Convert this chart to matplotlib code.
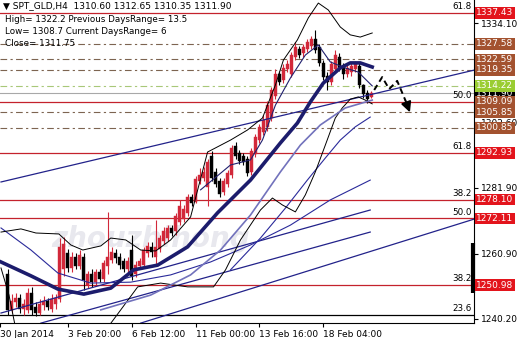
import numpy as np
import matplotlib
matplotlib.use("Agg")
import matplotlib.pyplot as plt

# H4 candles, bar index 1..92
opens = [1254.5, 1243.0, 1245.5, 1247.0, 1243.5, 1243.0, 1248.5, 1244.0, 1242.0, 1244.5,
         1246.0, 1243.5, 1245.0, 1246.5, 1256.0, 1261.0, 1256.5, 1260.0, 1257.0, 1260.0,
         1251.0, 1254.5, 1252.0, 1255.0, 1253.0, 1257.0, 1259.0, 1261.0, 1260.0, 1258.5,
         1256.0, 1262.0, 1254.5, 1257.0, 1257.5, 1261.0, 1263.0, 1260.0, 1262.5, 1265.0,
         1266.0, 1269.0, 1268.0, 1271.0, 1272.0, 1274.0, 1279.0, 1277.5, 1284.0, 1285.0,
         1282.0, 1292.0, 1287.0, 1284.0, 1280.5, 1283.0, 1286.0, 1295.0, 1293.0, 1292.0,
         1291.0, 1287.0, 1292.5, 1297.0, 1299.5, 1301.0, 1304.0, 1311.0, 1318.0, 1316.0,
         1319.5, 1318.0, 1323.5, 1326.0, 1324.5, 1326.0, 1327.0, 1329.0, 1326.5, 1321.5,
         1317.5, 1315.5, 1319.5, 1323.5, 1320.5, 1318.0, 1318.5, 1319.5, 1320.5, 1314.5,
         1312.0, 1310.6]
highs = [1256.0, 1248.0, 1248.5, 1248.0, 1246.5, 1250.0, 1250.5, 1245.5, 1246.5, 1247.5,
         1247.0, 1248.0, 1248.0, 1266.0, 1266.2, 1262.5, 1261.5, 1261.0, 1262.0, 1261.0,
         1255.5, 1256.0, 1256.0, 1256.0, 1259.0, 1274.2, 1263.0, 1262.5, 1261.0, 1259.5,
         1260.0, 1266.9, 1258.5, 1259.5, 1263.0, 1264.5, 1264.5, 1271.6, 1267.0, 1269.5,
         1270.0, 1270.0, 1274.0, 1278.0, 1276.5, 1280.0, 1280.0, 1285.5, 1288.0, 1288.5,
         1291.0, 1293.5, 1288.0, 1285.0, 1285.0, 1287.5, 1295.5, 1296.5, 1294.0, 1293.0,
         1292.0, 1294.5, 1299.0, 1302.0, 1305.0, 1309.5, 1314.0, 1319.5, 1319.0, 1321.0,
         1322.5, 1325.0, 1328.0, 1327.0, 1327.5, 1329.0, 1330.0, 1332.0, 1327.5, 1322.5,
         1318.5, 1322.0, 1325.5, 1324.5, 1321.5, 1321.0, 1321.5, 1322.0, 1321.5, 1314.7,
         1313.0, 1312.65]
lows = [1241.5, 1242.0, 1244.0, 1242.0, 1241.5, 1242.0, 1241.5, 1241.0, 1241.5, 1243.0,
        1243.0, 1242.5, 1243.5, 1245.5, 1254.0, 1255.0, 1255.0, 1256.0, 1256.0, 1249.5,
        1250.0, 1250.5, 1251.0, 1252.0, 1252.0, 1254.5, 1258.0, 1258.0, 1256.0, 1255.0,
        1255.0, 1252.5, 1253.5, 1256.0, 1256.5, 1260.0, 1260.0, 1257.5, 1261.5, 1264.0,
        1265.0, 1266.5, 1267.0, 1270.0, 1271.0, 1273.0, 1276.0, 1277.0, 1283.0, 1284.0,
        1276.0, 1284.0, 1282.0, 1279.0, 1279.5, 1282.0, 1285.0, 1291.0, 1289.5, 1289.0,
        1285.5, 1286.0, 1291.5, 1296.0, 1298.5, 1300.0, 1303.0, 1310.0, 1314.5, 1315.0,
        1318.5, 1317.0, 1322.5, 1323.0, 1323.5, 1325.0, 1326.0, 1324.5, 1320.5, 1316.0,
        1313.0, 1314.5, 1318.5, 1319.0, 1316.5, 1317.0, 1317.5, 1318.5, 1313.5, 1310.5,
        1308.7, 1310.35]
closes = [1243.0, 1246.0, 1247.0, 1243.5, 1245.0, 1248.5, 1243.0, 1242.0, 1245.0, 1246.0,
          1244.0, 1246.5, 1247.0, 1263.0, 1264.0, 1256.5, 1260.0, 1257.0, 1260.5, 1252.5,
          1254.5, 1252.0, 1255.0, 1253.0, 1258.0, 1260.0, 1261.5, 1259.5, 1257.5, 1256.0,
          1258.5, 1254.0, 1257.5, 1258.5, 1262.0, 1263.5, 1261.5, 1263.0, 1266.0, 1268.0,
          1269.0, 1267.5, 1273.0, 1276.0, 1275.0, 1279.0, 1277.0, 1284.5, 1286.0, 1287.0,
          1290.0, 1285.0, 1283.0, 1280.0, 1284.0, 1286.5, 1294.5, 1292.0, 1290.5, 1290.0,
          1286.5, 1293.5, 1298.0, 1301.0, 1303.5, 1308.0, 1313.0, 1318.0, 1315.5, 1320.0,
          1321.0, 1324.0, 1326.5, 1324.0, 1326.5, 1328.0, 1329.0, 1325.5, 1321.5, 1317.0,
          1315.5, 1321.0, 1324.0, 1320.0, 1318.0, 1320.0, 1320.5, 1321.0, 1314.5, 1311.5,
          1310.0, 1311.9]

# indicator lines (bar index, price)
ma_thick_x = [-0.75, 6.75, 13.5, 20, 26.75, 32.5, 38.5, 46, 53.5, 61.75, 69.25, 73.5, 76.75, 80, 84.25, 86.75, 89.25, 92.25]
ma_thick_y = [1258.3, 1253.9, 1249.7, 1248.1, 1250.0, 1255.8, 1257.3, 1263.1, 1273.9, 1284.3, 1296.1, 1302.4, 1309.1, 1315.1, 1319.9, 1321.5, 1321.5, 1320.2]
ma_mid_x = [24.25, 36.75, 46.75, 54.25, 61.75, 69.25, 74.25, 79.25, 85.5, 92.25]
ma_mid_y = [1243.1, 1247.8, 1254.2, 1262.1, 1273.2, 1286.9, 1295.4, 1301.8, 1307.2, 1309.7]
ma_fast_x = [49.25, 56.75, 61.75, 64.75, 68, 71.75, 75.5, 78.75, 81.75, 85.5, 88.75, 92.25]
ma_fast_y = [1281.2, 1289.1, 1290.7, 1297.0, 1308.1, 1316.7, 1324.0, 1327.2, 1321.8, 1319.9, 1318.6, 1314.2]
ma_slow_x = [-0.75, 6.75, 13.5, 21.75, 31.75, 41.75, 51.75, 61.75, 71.75, 81.75, 91.75]
ma_slow_y = [1269.1, 1262.1, 1254.8, 1251.6, 1251.9, 1254.2, 1258.3, 1263.7, 1270.0, 1278.0, 1284.3]
ma_steep_x = [56.75, 64.25, 70.5, 76, 80.5, 84.25, 88, 91.75]
ma_steep_y = [1255.8, 1265.9, 1275.4, 1284.3, 1291.3, 1297.0, 1301.2, 1304.3]
bb_up_x = [-0.75, 4.25, 8, 13.75, 16.75, 19.75, 24.25, 26.75, 30.5, 34.25, 38, 41.75, 46.75, 51, 56.75,
           61, 64.75, 68, 70, 73.5, 76.25, 78.75, 81.25, 84.25, 86.75, 89.25, 92.25]
bb_up_y = [1267.8, 1268.8, 1267.5, 1267.2, 1263.7, 1262.1, 1263.4, 1265.9, 1265.3, 1262.1, 1261.8, 1265.3,
           1272.6, 1293.2, 1297.0, 1300.2, 1304.0, 1314.5, 1322.4, 1328.8, 1335.8, 1340.5, 1338.3, 1332.9,
           1330.4, 1329.7, 1331.0]
bb_lo1_x = [-0.75, 1.25, 2.75]
bb_lo1_y = [1256.4, 1247.8, 1238.3]
bb_lo_x = [25.5, 29.25, 33.5, 39.25, 46, 52.5, 55.5, 59.25, 64.25, 67.25, 69.75, 73, 75.5, 78, 80.5, 83,
           84.75, 86.75, 88.75, 90.5, 92.25]
bb_lo_y = [1236.7, 1243.1, 1250.4, 1251.6, 1250.4, 1250.4, 1255.8, 1265.3, 1274.8, 1278.6, 1276.4, 1274.2,
           1279.6, 1286.9, 1295.4, 1304.0, 1307.2, 1310.0, 1310.7, 1309.7, 1308.5]
trend_lines = [([-0.75, 117.75], [1283.7, 1319.2]),
               ([34.25, 117.75], [1238.9, 1271.9]),
               ([-0.75, 91.75], [1242.1, 1274.8]),
               ([9.25, 91.75], [1238.9, 1267.8])]
proj_x = [92.75, 94.75, 96.5, 98.5, 100.6]
proj_y = [1312.9, 1317.0, 1313.2, 1315.8, 1309.5]
proj_end = (101.7, 1305.8)

# levels
fib_red = [1337.43, 1309.09, 1292.93, 1278.10, 1272.11, 1250.98]
fib_txt = ["61.8", "50.0", "61.8", "38.2", "50.0", "38.2"]
fib_236 = 1241.5
dash_levels = [1327.58, 1322.59, 1319.35, 1305.85, 1300.85]
green_level = 1314.22
bid = 1311.90
boxes = [(1311.90, '#000000'), (1337.43, '#e3141c'), (1327.58, '#a3522f'), (1322.59, '#a3522f'),
         (1319.35, '#a3522f'), (1314.22, '#9acd32'), (1309.09, '#a3522f'), (1305.85, '#a3522f'),
         (1300.85, '#a3522f'), (1292.93, '#e3141c'), (1278.10, '#e3141c'), (1272.11, '#e3141c'),
         (1250.98, '#e3141c')]
yticks = [1240.20, 1250.55, 1260.90, 1271.40, 1281.90, 1292.25, 1302.60, 1313.10, 1323.60, 1334.10]
ylabels = ["1240.20", "", "1260.90", "", "1281.90", "", "1302.60", "", "", "1334.10"]
xticks = [-1, 16, 32, 48, 64, 80]
xlabels = ["30 Jan 2014", "3 Feb 20:00", "6 Feb 12:00", "11 Feb 00:00", "13 Feb 16:00", "18 Feb 04:00"]

plt.rcParams['font.family'] = 'DejaVu Sans'
fig = plt.figure(figsize=(5.17, 3.38), dpi=100)
ax = fig.add_axes([0, 15 / 338, 474 / 517, 323 / 338])
ax.set_xlim(-0.75, 117.75)
ax.set_ylim(1238.93, 1341.47)

ax.text(36.75, 1265.5, 'zhouzhihong', fontsize=20, color='#e8e8ee', style='italic',
        weight='bold', ha='center', va='center', zorder=0)

for lv, t in zip(fib_red, fib_txt):
    ax.axhline(lv, color='#c4222c', lw=0.9, zorder=1)
    ax.text(117.2, lv + 0.5, t, fontsize=6.3, ha='right', va='bottom', zorder=6)
ax.axhline(fib_236, color='black', lw=0.9, zorder=1)
ax.text(117.2, fib_236 + 0.5, "23.6", fontsize=6.3, ha='right', va='bottom', zorder=6)
for lv in dash_levels:
    ax.axhline(lv, color='#7d6450', lw=0.8, dashes=(6, 3, 2, 3), zorder=1)
ax.axhline(green_level, color='#a8c878', lw=0.8, dashes=(6, 3, 2, 3), zorder=1)
ax.axhline(bid, color='#a8a8a8', lw=0.8, zorder=1)

idx = np.arange(1, len(opens) + 1)
o = np.array(opens); c = np.array(closes)
up = c >= o
cols = np.where(up, '#d2283a', '#000000')
ax.vlines(idx, lows, highs, colors=cols, lw=0.8, zorder=3)
body = np.maximum(np.abs(c - o), 0.3)
ax.bar(idx, body, bottom=np.minimum(o, c), width=0.75, color=cols, edgecolor=cols, lw=0.3, zorder=3)

for tx, ty in trend_lines:
    ax.plot(tx, ty, color='#22228a', lw=0.9, zorder=4)
ax.plot(ma_slow_x, ma_slow_y, color='#2a2a9a', lw=0.8, zorder=4)
ax.plot(ma_steep_x, ma_steep_y, color='#2a2a9a', lw=0.8, zorder=4)
ax.plot(ma_fast_x, ma_fast_y, color='#20206e', lw=0.8, zorder=4)
ax.plot(bb_up_x, bb_up_y, color='black', lw=0.7, zorder=4)
ax.plot(bb_lo1_x, bb_lo1_y, color='black', lw=0.7, zorder=4)
ax.plot(bb_lo_x, bb_lo_y, color='black', lw=0.7, zorder=4)
ax.plot(ma_mid_x, ma_mid_y, color='#7272bc', lw=1.2, zorder=4)
ax.plot(ma_thick_x, ma_thick_y, color='#1c1c6c', lw=2.6, zorder=5)

ax.plot(proj_x, proj_y, color='black', lw=1.4, ls=(0, (3, 2)), zorder=6)
ax.annotate('', xy=proj_end, xytext=(proj_x[-1], proj_y[-1]),
            arrowprops=dict(arrowstyle='-|>,head_length=0.6,head_width=0.3', color='black',
                            lw=1.4, mutation_scale=10, shrinkA=0, shrinkB=0), zorder=6)

for s in ['top', 'left']:
    ax.spines[s].set_visible(False)
ax.spines['bottom'].set_color('black')
ax.spines['right'].set_color('black')
ax.yaxis.tick_right()
ax.set_yticks(yticks)
ax.set_yticklabels(ylabels, fontsize=6.5)
ax.tick_params(axis='y', length=3, pad=2, width=0.8)
ax.set_xticks(xticks)
ax.set_xticklabels(xlabels, fontsize=6.5, ha='left')
ax.tick_params(axis='x', length=3, pad=2, width=0.8)

tr = ax.get_yaxis_transform()
ax.plot([0.998, 0.998], [1248.5, 1264.3], transform=tr, color='black', lw=3,
        solid_capstyle='butt', clip_on=False, zorder=7)
for k, (lv, col) in enumerate(boxes):
    ax.text(1.005, lv, '%.2f' % lv, transform=tr, fontsize=6.5, color='white',
            ha='left', va='center', clip_on=False, zorder=8 + k * 0.01,
            bbox=dict(boxstyle='square,pad=0.15', fc=col, ec='none'))

fig.text(0.006, 1 - 6 / 338, u'\u25bc SPT_GLD,H4  1310.60 1312.65 1310.35 1311.90', fontsize=6.5, va='center')
fig.text(0.01, 1 - 19 / 338, 'High= 1322.2 Previous DaysRange= 13.5', fontsize=6.3, va='center')
fig.text(0.01, 1 - 31 / 338, 'Low= 1308.7 Current DaysRange= 6', fontsize=6.3, va='center')
fig.text(0.01, 1 - 43 / 338, 'Close= 1311.75', fontsize=6.3, va='center')

fig.savefig('out.png', dpi=100)
